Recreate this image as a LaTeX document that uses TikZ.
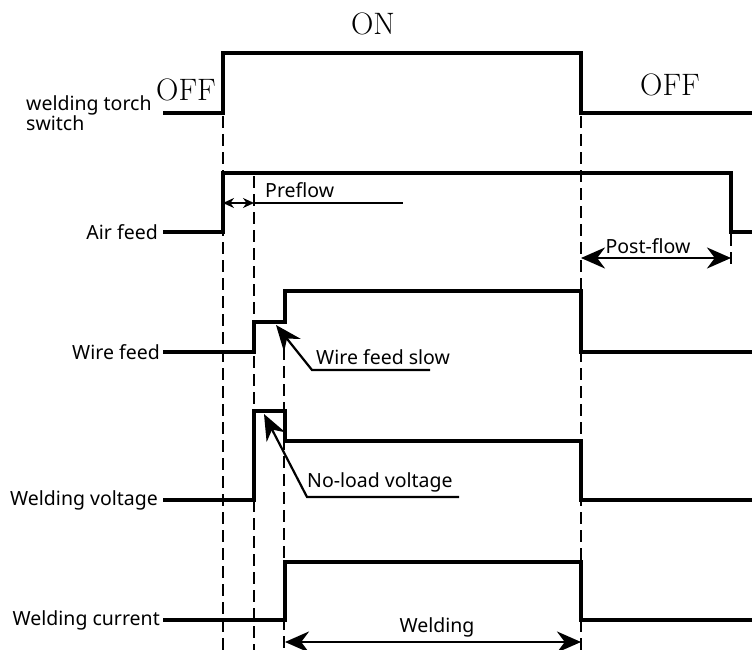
\documentclass[tikz,border=0pt]{standalone}
\usepackage{fontspec}
\setmainfont{Noto Sans}
\newfontfamily\serifoff{Latin Modern Roman}
\usetikzlibrary{arrows.meta}
\tikzset{
  sig/.style={line width=4.8pt, line join=miter},
  guide/.style={line width=2.4pt, dash pattern=on 12pt off 6pt},
  lbl/.style={font=\fontsize{19.5}{21}\selectfont, inner sep=0pt},
  state/.style={font=\serifoff\fontsize{31}{33}\selectfont, inner sep=0pt},
  dim/.style={line width=2.8pt, {Stealth[length=24pt,width=21pt]}-{Stealth[length=24pt,width=21pt]}},
  leader/.style={line width=2.2pt, {Stealth[length=26pt,width=21pt]}-}
}
\begin{document}
\begin{tikzpicture}[x=1pt,y=-1pt]
\useasboundingbox (0,0) rectangle (752,650);
% guide lines
\draw[guide] (223,116) -- (223,650);
\draw[guide] (254,176) -- (254,650);
\draw[guide] (284,330) -- (284,650);
\draw[guide] (581,116) -- (581,650);
\draw[guide] (731,234) -- (731,268);
% signals
\draw[sig] (163,113) -- (223,113) -- (223,53) -- (581,53) -- (581,113) -- (752,113);
\draw[sig] (163,232) -- (223,232) -- (223,173) -- (731,173) -- (731,232) -- (752,232);
\draw[sig] (163,352) -- (254,352) -- (254,322) -- (285,322) -- (285,291) -- (581,291) -- (581,352) -- (752,352);
\draw[sig] (163,500) -- (254,500) -- (254,411) -- (285,411) -- (285,441) -- (581,441) -- (581,500) -- (752,500);
\draw[sig] (163,620) -- (285,620) -- (285,562) -- (581,562) -- (581,620) -- (752,620);
% labels
\node[lbl, anchor=west, align=left, font=\fontsize{19.5}{17}\selectfont] (torch) at (26,113) {welding torch\\switch};
\node[lbl, anchor=east] (air) at (158,232) {Air feed};
\node[lbl, anchor=east] (wire) at (160,352) {Wire feed};
\node[lbl, anchor=east] (volt) at (158,500) {Welding voltage};
\node[lbl, anchor=east] (curr) at (160,620) {Welding current};
\node[state] (off1) at (186,90) {OFF};
\node[state] (on) at (373,24) {ON};
\node[state] (off2) at (670,85) {OFF};
% preflow
\coordinate (pfa) at (223,203);
\coordinate (pfb) at (254,203);
\coordinate (pfe) at (403,203);
\draw[line width=2pt, {Stealth[length=11pt,width=10pt]}-{Stealth[length=11pt,width=10pt]}] (pfa) -- (pfb);
\draw[line width=1.5pt] (pfb) -- (pfe);
\node[lbl, anchor=west] (pre) at (265,190) {Preflow};
% post-flow
\coordinate (poa) at (581,258);
\coordinate (pob) at (731,258);
\draw[dim] (poa) -- (pob);
\node[lbl, anchor=south] (post) at (648,254) {Post-flow};
% welding
\coordinate (wa) at (285,642);
\coordinate (wb) at (581,642);
\draw[dim] (wa) -- (wb);
\node[lbl, anchor=south] (weld) at (437,637) {Welding};
% wire feed slow
\coordinate (wst) at (276,325);
\coordinate (wsk) at (312,370);
\coordinate (wse) at (430,370);
\draw[leader] (wst) -- (wsk) -- (wse);
\node[lbl, anchor=south west] (wfs) at (316,365) {Wire feed slow};
% no-load
\coordinate (nlt) at (264,414);
\coordinate (nlk) at (307,497);
\coordinate (nle) at (459,497);
\draw[leader] (nlt) -- (nlk) -- (nle);
\node[lbl, anchor=south west] (nlv) at (307,492) {No-load voltage};
\end{tikzpicture}
\end{document}
